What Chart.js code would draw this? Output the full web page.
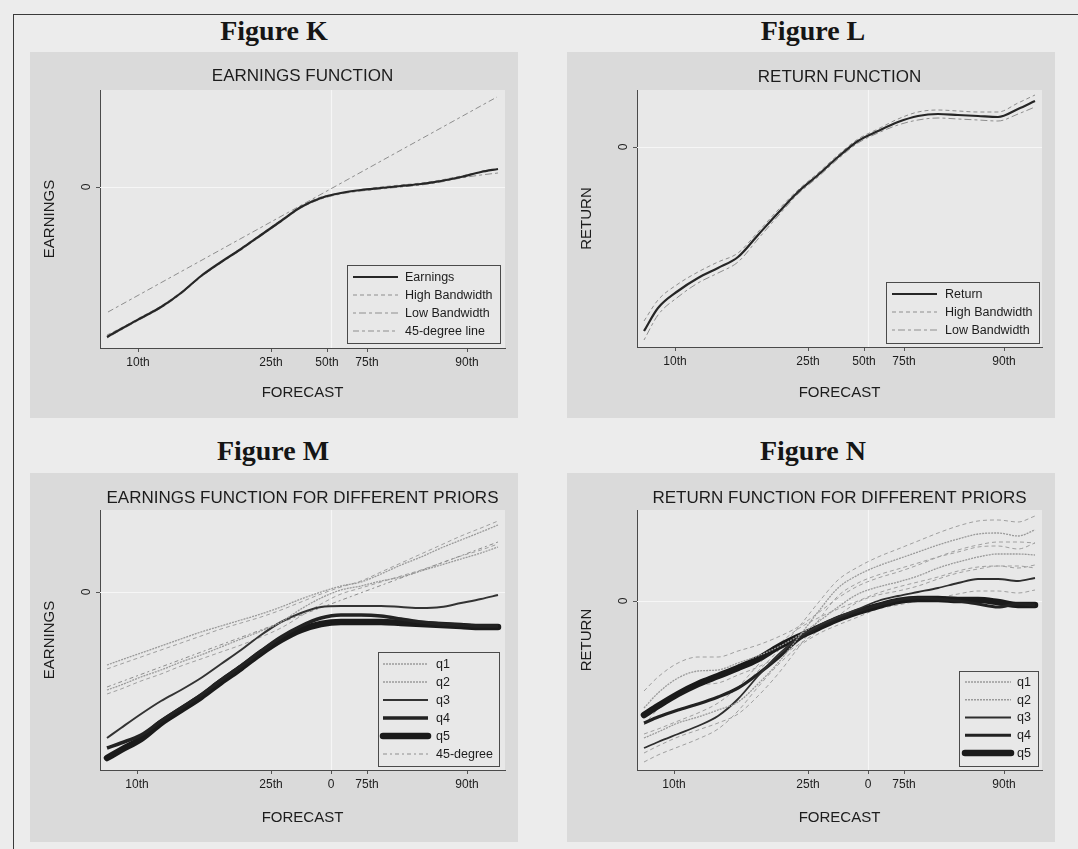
<!DOCTYPE html>
<html><head><meta charset="utf-8">
<script src="https://cdn.jsdelivr.net/npm/chart.js@4.4.1/dist/chart.umd.min.js"></script>
<style>
html,body{margin:0;padding:0;background:#ececec;}
body{width:1078px;height:849px;position:relative;overflow:hidden;font-family:"Liberation Sans",Arial,sans-serif;}
.frame{position:absolute;left:13px;top:14px;width:1100px;height:900px;border-left:1.5px solid #3a3a3a;border-top:1.5px solid #3a3a3a;}
.fig{position:absolute;width:300px;text-align:center;font-family:"Liberation Serif","Times New Roman",serif;font-weight:bold;font-size:28px;line-height:32px;color:#151515;}
.panel{position:absolute;background:#dadada;}
canvas{display:block;}
</style></head><body>
<div class="frame"></div>
<div class="fig" style="left:124px;top:15px">Figure K</div>
<div class="fig" style="left:663px;top:15px">Figure L</div>
<div class="fig" style="left:123px;top:435px">Figure M</div>
<div class="fig" style="left:663px;top:435px">Figure N</div>
<div class="panel" style="left:30px;top:52px;width:488px;height:366px"><canvas id="cK" width="488" height="366"></canvas></div>
<div class="panel" style="left:567px;top:52px;width:488px;height:366px"><canvas id="cL" width="488" height="366"></canvas></div>
<div class="panel" style="left:30px;top:473px;width:488px;height:369px"><canvas id="cM" width="488" height="369"></canvas></div>
<div class="panel" style="left:567px;top:473px;width:488px;height:369px"><canvas id="cN" width="488" height="369"></canvas></div>
<script>
// ---------- data (forecast positions and fitted values) ----------
const forecast = [-2.24,-2.10,-1.90,-1.70,-1.50,-1.30,-1.10,-0.90,-0.70,-0.50,-0.30,-0.10,0.10,0.30,0.50,0.70,0.90,1.10,1.30,1.50,1.67];
const tickPosKL = [-1.93,-0.60,-0.04,0.36,1.36];
const tickLabelsKL = ['10th','25th','50th','75th','90th'];
const tickPosMN = [-1.94,-0.60,0,0.36,1.36];
const tickLabelsMN = ['10th','25th','0','75th','90th'];

// Figure K
const kEarnings = [-1.50,-1.42,-1.31,-1.20,-1.06,-0.89,-0.75,-0.62,-0.48,-0.34,-0.20,-0.11,-0.06,-0.03,-0.01,0.01,0.03,0.06,0.10,0.15,0.18];
const kHigh     = [-1.48,-1.41,-1.30,-1.19,-1.05,-0.89,-0.75,-0.61,-0.47,-0.33,-0.19,-0.10,-0.06,-0.03,0.00,0.02,0.04,0.07,0.11,0.15,0.18];
const kLow      = [-1.51,-1.43,-1.32,-1.21,-1.07,-0.90,-0.76,-0.63,-0.49,-0.35,-0.21,-0.12,-0.07,-0.04,-0.02,0.00,0.02,0.05,0.09,0.12,0.14];
const k45x = [-2.23,1.66];
const k45y = [-1.25,0.90];

// Figure L
const lReturn = [-1.84,-1.61,-1.44,-1.31,-1.21,-1.10,-0.88,-0.66,-0.45,-0.28,-0.10,0.06,0.16,0.25,0.31,0.33,0.32,0.31,0.30,0.38,0.46];
const lHigh   = [-1.74,-1.53,-1.37,-1.25,-1.15,-1.06,-0.85,-0.63,-0.43,-0.26,-0.08,0.08,0.18,0.28,0.35,0.37,0.36,0.35,0.35,0.44,0.52];
const lLow    = [-1.93,-1.68,-1.50,-1.36,-1.26,-1.15,-0.92,-0.69,-0.47,-0.30,-0.12,0.04,0.14,0.22,0.27,0.29,0.28,0.27,0.26,0.33,0.40];

// Figure M
const mQ1 = [-0.73,-0.68,-0.61,-0.54,-0.47,-0.40,-0.34,-0.28,-0.22,-0.15,-0.07,0.00,0.06,0.10,0.18,0.27,0.35,0.44,0.52,0.60,0.67];
const mQ2 = [-0.98,-0.93,-0.85,-0.78,-0.70,-0.63,-0.55,-0.47,-0.39,-0.30,-0.17,-0.06,0.02,0.06,0.11,0.15,0.21,0.27,0.33,0.39,0.45];
const mQ3 = [-1.46,-1.36,-1.22,-1.09,-0.98,-0.86,-0.72,-0.58,-0.43,-0.30,-0.21,-0.15,-0.14,-0.14,-0.14,-0.15,-0.16,-0.15,-0.11,-0.07,-0.03];
const mQ4 = [-1.56,-1.51,-1.43,-1.29,-1.16,-1.03,-0.88,-0.74,-0.59,-0.45,-0.34,-0.26,-0.23,-0.23,-0.24,-0.27,-0.30,-0.32,-0.33,-0.34,-0.34];
const mQ5 = [-1.66,-1.58,-1.47,-1.31,-1.18,-1.05,-0.90,-0.76,-0.61,-0.48,-0.38,-0.32,-0.30,-0.30,-0.30,-0.31,-0.32,-0.33,-0.34,-0.35,-0.35];
const mQ1Band = [-0.77,-0.72,-0.65,-0.58,-0.51,-0.44,-0.37,-0.31,-0.25,-0.18,-0.10,-0.02,0.05,0.11,0.20,0.29,0.38,0.47,0.56,0.64,0.71];
const mQ2Band = [-1.02,-0.97,-0.89,-0.82,-0.74,-0.67,-0.60,-0.53,-0.45,-0.36,-0.24,-0.12,-0.02,0.04,0.10,0.16,0.22,0.29,0.36,0.42,0.48];
const m45x = [-2.24,1.67];
const m45y = [-0.95,0.50];

// Figure N
const nQ1 = [-1.37,-1.31,-1.22,-1.16,-1.09,-1.01,-0.83,-0.62,-0.37,-0.11,0.13,0.26,0.35,0.42,0.49,0.56,0.62,0.67,0.68,0.65,0.71];
const nQ2 = [-1.07,-0.92,-0.77,-0.70,-0.69,-0.62,-0.55,-0.46,-0.35,-0.21,-0.06,0.07,0.14,0.19,0.25,0.33,0.39,0.44,0.47,0.47,0.46];
const nQ3 = [-1.47,-1.41,-1.33,-1.25,-1.15,-0.98,-0.75,-0.54,-0.37,-0.25,-0.16,-0.08,0.00,0.05,0.09,0.13,0.18,0.22,0.22,0.20,0.23];
const nQ4 = [-1.22,-1.16,-1.09,-1.03,-0.96,-0.87,-0.73,-0.57,-0.39,-0.26,-0.17,-0.10,-0.04,0.01,0.03,0.02,0.00,-0.03,-0.06,-0.03,-0.04];
const nQ5 = [-1.14,-1.05,-0.93,-0.83,-0.75,-0.67,-0.58,-0.46,-0.36,-0.27,-0.18,-0.11,-0.05,0.00,0.02,0.02,0.01,0.01,-0.01,-0.04,-0.04];
const nQ1Up = [-1.22,-1.17,-1.09,-1.03,-0.96,-0.88,-0.70,-0.50,-0.27,-0.02,0.21,0.34,0.44,0.52,0.60,0.68,0.75,0.80,0.81,0.79,0.85];
const nQ1Lo = [-1.52,-1.45,-1.36,-1.29,-1.22,-1.13,-0.95,-0.73,-0.47,-0.20,0.05,0.18,0.26,0.32,0.38,0.44,0.49,0.54,0.55,0.52,0.58];
const nQ2Up = [-0.90,-0.76,-0.62,-0.56,-0.56,-0.50,-0.44,-0.36,-0.26,-0.12,0.03,0.15,0.23,0.29,0.36,0.44,0.51,0.56,0.59,0.59,0.58];
const nQ2Lo = [-1.24,-1.08,-0.92,-0.84,-0.82,-0.74,-0.66,-0.56,-0.44,-0.30,-0.15,-0.01,0.06,0.10,0.15,0.22,0.28,0.32,0.35,0.35,0.33];
const nQ3Up = [-1.33,-1.28,-1.20,-1.12,-1.02,-0.86,-0.64,-0.44,-0.28,-0.17,-0.08,0.00,0.08,0.14,0.19,0.24,0.30,0.34,0.35,0.33,0.36];
const nQ3Lo = [-1.61,-1.54,-1.46,-1.38,-1.28,-1.10,-0.86,-0.64,-0.46,-0.33,-0.24,-0.16,-0.08,-0.04,0.00,0.03,0.07,0.10,0.10,0.08,0.11];

// ---------- styling / helpers ----------
const FONT = '"Liberation Sans", Arial, sans-serif';
const PLOT_BG = '#e8e8e8';
const DARK = '#262626';
const LIGHT = '#8e8e8e';

function pts(xs, ys) { return xs.map((x, i) => ({x: x, y: ys[i]})); }
function line(label, xs, ys, color, width, dash, extra) {
  return Object.assign({
    label: label, data: pts(xs, ys), borderColor: color, borderWidth: width,
    borderDash: dash || [], showLine: true, pointRadius: 0, fill: false,
    cubicInterpolationMode: 'monotone'
  }, extra || {});
}

const deco = {
  id: 'deco',
  beforeDraw(chart, args, o) {
    const {ctx, chartArea: a} = chart;
    ctx.save();
    ctx.fillStyle = PLOT_BG;
    ctx.fillRect(a.left, a.top, a.right - a.left, a.bottom - a.top);
    ctx.restore();
  },
  beforeDatasetsDraw(chart, args, o) {
    const {ctx, chartArea: a, scales} = chart;
    const x0 = Math.round(scales.x.getPixelForValue(0)) + 0.5;
    const y0 = Math.round(scales.y.getPixelForValue(0)) + 0.5;
    ctx.save();
    ctx.strokeStyle = '#f6f6f6';
    ctx.lineWidth = 1.2;
    ctx.beginPath();
    ctx.moveTo(x0, a.top); ctx.lineTo(x0, a.bottom);
    ctx.moveTo(a.left, y0); ctx.lineTo(a.right, y0);
    ctx.stroke();
    ctx.restore();
  },
  afterDraw(chart, args, o) {
    const {ctx, chartArea: a} = chart;
    ctx.save();
    ctx.fillStyle = '#1c1c1c';
    ctx.font = '17px ' + FONT;
    ctx.textAlign = 'center';
    ctx.textBaseline = 'middle';
    ctx.fillText(o.title, (a.left + a.right) / 2 + (o.titleDx || 0), o.titleY);
    const L = o.legend;
    ctx.fillStyle = PLOT_BG;
    ctx.fillRect(L.x, L.y, L.w, L.h);
    ctx.strokeStyle = '#4a4a4a';
    ctx.lineWidth = 1;
    ctx.strokeRect(L.x + 0.5, L.y + 0.5, L.w, L.h);
    const items = chart.data.datasets.filter(d => !d.hideInLegend);
    items.forEach((d, i) => {
      const yy = L.y + L.first + i * L.step;
      ctx.strokeStyle = d.borderColor;
      ctx.lineWidth = d.borderWidth;
      ctx.lineCap = d.borderCapStyle || 'butt';
      ctx.setLineDash(d.borderDash || []);
      ctx.beginPath();
      ctx.moveTo(L.x + L.lx0, yy); ctx.lineTo(L.x + L.lx1, yy);
      ctx.stroke();
      ctx.setLineDash([]);
      ctx.fillStyle = '#1c1c1c';
      ctx.font = '12.5px ' + FONT;
      ctx.textAlign = 'left';
      ctx.textBaseline = 'middle';
      ctx.fillText(d.label, L.x + L.tx, yy + 0.5);
    });
    ctx.restore();
  }
};

function makeChart(id, cfg) {
  const h = document.getElementById(id).height;
  return new Chart(document.getElementById(id), {
    type: 'scatter',
    data: {datasets: cfg.datasets},
    plugins: [deco],
    options: {
      responsive: false, animation: false, devicePixelRatio: 1,
      layout: {padding: {top: cfg.top, right: 13, left: 0, bottom: 0}},
      plugins: {
        legend: {display: false}, tooltip: {enabled: false},
        deco: {title: cfg.title, titleY: cfg.titleY, legend: cfg.legend}
      },
      scales: {
        x: {
          type: 'linear', min: -2.31, max: 1.74,
          afterBuildTicks: s => { s.ticks = cfg.xTicks.map(v => ({value: v})); },
          afterFit: s => { s.height = h - cfg.bottom; },
          ticks: {
            autoSkip: false, maxRotation: 0, padding: 3, color: '#1c1c1c',
            font: {family: FONT, size: 12},
            callback: (v, i) => cfg.xLabels[i]
          },
          grid: {drawOnChartArea: false, drawTicks: true, tickLength: 4, color: '#555'},
          border: {display: true, color: '#4a4a4a', width: 1},
          title: {display: true, text: 'FORECAST', color: '#1c1c1c', font: {family: FONT, size: 15}, padding: {top: 0, bottom: cfg.xTitlePad}}
        },
        y: {
          type: 'linear', min: cfg.yMin, max: cfg.yMax,
          afterBuildTicks: s => { s.ticks = [{value: 0}]; },
          afterFit: s => { s.width = 70; },
          ticks: {
            minRotation: 90, maxRotation: 90, crossAlign: 'center', padding: 6,
            color: '#1c1c1c', font: {family: FONT, size: 12},
            callback: () => '0'
          },
          grid: {drawOnChartArea: false, drawTicks: true, tickLength: 4, color: '#555'},
          border: {display: true, color: '#4a4a4a', width: 1},
          title: {display: true, text: cfg.yTitle, color: '#1c1c1c', font: {family: FONT, size: 15}, padding: {top: 11, bottom: 0}}
        }
      }
    }
  });
}

makeChart('cK', {
  top: 38, bottom: 296, yMin: -1.61, yMax: 0.97, xTitlePad: 16,
  title: 'EARNINGS FUNCTION', titleY: 24, yTitle: 'EARNINGS',
  xTicks: tickPosKL, xLabels: tickLabelsKL,
  legend: {x: 317, y: 213, w: 153, h: 78, first: 12, step: 18, lx0: 6, lx1: 51, tx: 58},
  datasets: [
    line('Earnings', forecast, kEarnings, DARK, 2.2),
    line('High Bandwidth', forecast, kHigh, LIGHT, 1, [4, 3]),
    line('Low Bandwidth', forecast, kLow, LIGHT, 1, [3, 3, 7, 3]),
    line('45-degree line', k45x, k45y, LIGHT, 1, [6, 3, 3, 3])
  ]
});

makeChart('cL', {
  top: 38, bottom: 295, yMin: -2.00, yMax: 0.57, xTitlePad: 16,
  title: 'RETURN FUNCTION', titleY: 25, yTitle: 'RETURN',
  xTicks: tickPosKL, xLabels: tickLabelsKL,
  legend: {x: 319, y: 230, w: 153, h: 61, first: 12, step: 18, lx0: 6, lx1: 51, tx: 59},
  datasets: [
    line('Return', lReturn.length ? forecast : forecast, lReturn, DARK, 2.2),
    line('High Bandwidth', forecast, lHigh, LIGHT, 1, [4, 3]),
    line('Low Bandwidth', forecast, lLow, LIGHT, 1, [3, 3, 7, 3])
  ]
});

makeChart('cM', {
  top: 37, bottom: 297, yMin: -1.78, yMax: 0.82, xTitlePad: 15,
  title: 'EARNINGS FUNCTION FOR DIFFERENT PRIORS', titleY: 25, yTitle: 'EARNINGS',
  xTicks: tickPosMN, xLabels: tickLabelsMN,
  legend: {x: 348, y: 179, w: 121, h: 114, first: 12, step: 18, lx0: 5, lx1: 50, tx: 58},
  datasets: [
    line('q1', forecast, mQ1, '#9a9a9a', 1.3, [2, 1]),
    line('q2', forecast, mQ2, '#9a9a9a', 1.3, [2, 1]),
    line('q3', forecast, mQ3, '#333333', 2),
    line('q4', forecast, mQ4, '#222222', 3.5),
    line('q5', forecast, mQ5, '#1a1a1a', 6.5, [], {borderCapStyle: 'round'}),
    line('45-degree', m45x, m45y, LIGHT, 1, [4, 3, 2, 3]),
    line('', forecast, mQ1Band, '#a0a0a0', 1, [4, 3], {hideInLegend: true}),
    line('', forecast, mQ2Band, '#a0a0a0', 1, [4, 3], {hideInLegend: true})
  ]
});

makeChart('cN', {
  top: 37, bottom: 297, yMin: -1.69, yMax: 0.91, xTitlePad: 15,
  title: 'RETURN FUNCTION FOR DIFFERENT PRIORS', titleY: 25, yTitle: 'RETURN',
  xTicks: tickPosMN, xLabels: tickLabelsMN,
  legend: {x: 392, y: 198, w: 79, h: 95, first: 11, step: 17.75, lx0: 6, lx1: 52, tx: 58},
  datasets: [
    line('q1', forecast, nQ1, '#9a9a9a', 1.3, [2, 1]),
    line('q2', forecast, nQ2, '#9a9a9a', 1.3, [2, 1]),
    line('q3', forecast, nQ3, '#2e2e2e', 1.8),
    line('q4', forecast, nQ4, '#222222', 3.2),
    line('q5', forecast, nQ5, '#1a1a1a', 6.5, [], {borderCapStyle: 'round'}),
    line('', forecast, nQ1Up, '#a0a0a0', 1, [4, 3], {hideInLegend: true}),
    line('', forecast, nQ1Lo, '#a0a0a0', 1, [4, 3], {hideInLegend: true}),
    line('', forecast, nQ2Up, '#a0a0a0', 1, [4, 3], {hideInLegend: true}),
    line('', forecast, nQ2Lo, '#a0a0a0', 1, [4, 3], {hideInLegend: true}),
    line('', forecast, nQ3Up, '#a0a0a0', 1, [4, 3], {hideInLegend: true}),
    line('', forecast, nQ3Lo, '#a0a0a0', 1, [4, 3], {hideInLegend: true})
  ]
});
</script>
</body></html>
